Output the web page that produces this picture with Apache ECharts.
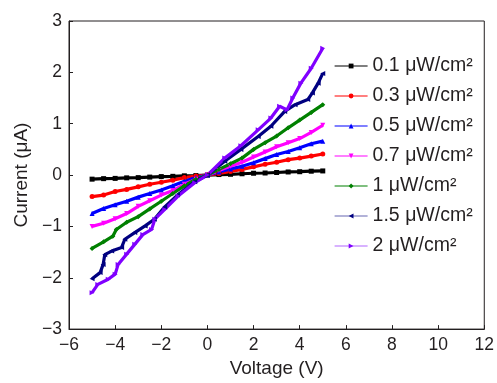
<!DOCTYPE html>
<html>
<head>
<meta charset="utf-8">
<script src="https://cdn.jsdelivr.net/npm/echarts@6/dist/echarts.min.js"></script>
<style>
html,body{margin:0;padding:0;background:#fff;}
#c{width:497px;height:383px;}
</style>
</head>
<body>
<div id="c"></div>
<script>
// Common voltage grid for the smoother curves
var voltage = [-5,-4.5,-4,-3.5,-3,-2.5,-2,-1.5,-1,-0.5,0,0.5,1,1.5,2,2.5,3,3.5,4,4.5,5];
var i01 = [-0.08,-0.07,-0.065,-0.055,-0.05,-0.04,-0.03,-0.025,-0.015,-0.01,0,0.01,0.015,0.025,0.035,0.04,0.05,0.06,0.065,0.075,0.08];
var i03 = [-0.42,-0.39,-0.32,-0.28,-0.23,-0.18,-0.14,-0.1,-0.05,-0.02,0,0.03,0.07,0.11,0.16,0.21,0.25,0.3,0.33,0.37,0.41];
var i05 = [-0.75,-0.65,-0.58,-0.51,-0.43,-0.36,-0.29,-0.21,-0.12,-0.05,0,0.06,0.12,0.17,0.24,0.32,0.4,0.46,0.53,0.61,0.66];
var i07 = [-1.0,-0.94,-0.85,-0.75,-0.61,-0.5,-0.39,-0.3,-0.18,-0.08,0,0.09,0.17,0.25,0.35,0.45,0.55,0.63,0.71,0.83,0.97];

var v10 = [-5,-4.5,-4.1,-3.95,-3.5,-3,-2.5,-2,-1.5,-1,-0.5,0,0.5,1,1.5,2,2.5,3,3.5,4,4.5,5];
var i10 = [-1.43,-1.3,-1.19,-1.06,-0.92,-0.81,-0.66,-0.51,-0.36,-0.21,-0.08,0,0.11,0.22,0.33,0.5,0.63,0.76,0.92,1.07,1.22,1.37];

var v15 = [-5,-4.65,-4.52,-4.45,-4.15,-3.72,-3.58,-3.15,-2.7,-2.3,-1.85,-1.3,-0.55,0,0.75,1.45,2.2,2.75,3.35,3.8,4.35,4.55,4.8,5];
var i15 = [-2.02,-1.9,-1.74,-1.55,-1.48,-1.41,-1.25,-1.12,-0.99,-0.86,-0.62,-0.39,-0.13,0,0.27,0.5,0.75,0.95,1.24,1.37,1.47,1.6,1.79,1.98];

var v20 = [-5,-4.75,-4.3,-4.0,-3.87,-3.5,-3.15,-2.8,-2.42,-2.28,-1.85,-1.27,-0.55,0,0.75,1.45,2.2,2.75,3.13,3.45,3.7,4.05,4.5,5];
var i20 = [-2.29,-2.13,-2.03,-1.93,-1.74,-1.54,-1.35,-1.16,-1.06,-0.86,-0.67,-0.41,-0.15,0,0.33,0.57,0.88,1.11,1.34,1.27,1.5,1.79,2.08,2.47];

var seriesNames = ['0.1 μW/cm²','0.3 μW/cm²','0.5 μW/cm²','0.7 μW/cm²','1 μW/cm²','1.5 μW/cm²','2 μW/cm²'];
var xTicks = {min:-6, max:12, interval:2};
var yTicks = {min:-3, max:3, interval:1};

var colors = ['#000000','#ff0000','#0000ff','#ff00ff','#008000','#000080','#8000ff'];
var symbols = ['rect','circle','triangle','path://M0,0 L10,0 L5,10 Z','diamond','path://M0,5 L10,0 L10,10 Z','path://M0,0 L10,5 L0,10 Z'];
var xs = [voltage,voltage,voltage,voltage,v10,v15,v20];
var ys = [i01,i03,i05,i07,i10,i15,i20];

function pairs(a,b){ return a.map(function(v,k){ return [v,b[k]]; }); }
var txt = '#231f20';
var font = 'Liberation Sans';
function minus(v){ return String(v).replace('-', '\u2212'); }

var series = seriesNames.map(function(n,k){
  return {
    name:n, type:'line', data:pairs(xs[k],ys[k]),
    showSymbol:true, symbol:symbols[k], symbolSize:5,
    lineStyle:{color:colors[k], width:3.2},
    itemStyle:{color:colors[k]},
    animation:false
  };
});

var chart = echarts.init(document.getElementById('c'));
chart.setOption({
  animation:false,
  grid:{left:69,right:12,top:21,bottom:53,show:true,borderColor:txt,borderWidth:1},
  legend:{
    orient:'vertical', left:329, top:51, itemWidth:33, itemHeight:6, itemGap:10,
    textStyle:{fontFamily:font, fontSize:19.5, color:txt, lineHeight:20},
    data:seriesNames.map(function(n,k){
      return {name:n, lineStyle:{width:1.2, opacity:k>=5?0.6:1}};
    })
  },
  xAxis:{
    type:'value', min:xTicks.min, max:xTicks.max, interval:xTicks.interval,
    name:'Voltage (V)', nameLocation:'middle', nameGap:29,
    nameTextStyle:{fontFamily:font, fontSize:19, color:txt},
    axisLine:{show:true, onZero:false, lineStyle:{color:txt, width:1}},
    axisTick:{show:true, inside:true, length:4, lineStyle:{color:txt}},
    axisLabel:{fontFamily:font, fontSize:17.5, color:txt, margin:7, formatter:minus},
    splitLine:{show:false}
  },
  yAxis:{
    type:'value', min:yTicks.min, max:yTicks.max, interval:yTicks.interval,
    name:'Current (μA)', nameLocation:'middle', nameGap:33,
    nameTextStyle:{fontFamily:font, fontSize:19, color:txt},
    axisLine:{show:true, onZero:false, lineStyle:{color:txt, width:1}},
    axisTick:{show:true, inside:true, length:4, lineStyle:{color:txt}},
    axisLabel:{fontFamily:font, fontSize:17.5, color:txt, margin:7, formatter:minus},
    splitLine:{show:false}
  },
  series:series
});
</script>
</body>
</html>
